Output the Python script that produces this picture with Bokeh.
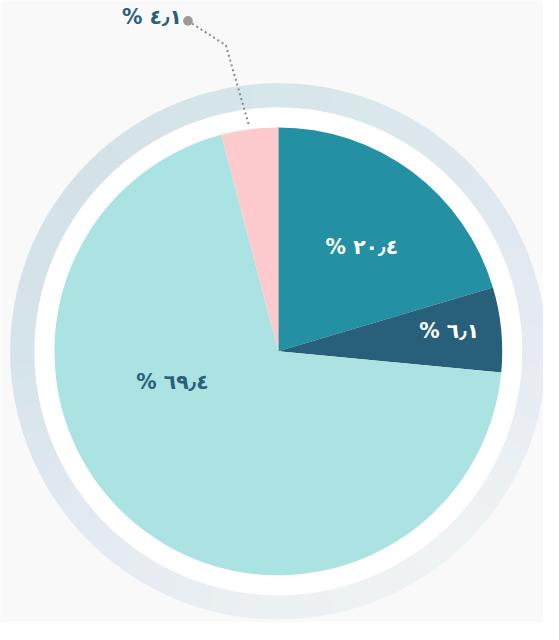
import numpy as np
from bokeh.plotting import figure
from bokeh.models import Range1d
from bokeh.core.properties import value
from bokeh.embed import file_html
from bokeh.resources import INLINE

# ---- data ----
shares = [20.4, 6.1, 69.4, 4.1]
labels = ["% ٢٠٫٤", "% ٦٫١", "% ٦٩٫٤", "% ٤٫١"]
colors = ["#2490a4", "#285f7a", "#aae3e2", "#fdcbce"]
label_colors = ["#ffffff", "#ffffff", "#2a5f7a", "#2a5f7a"]

# ---- layout ----
REF_W, REF_H = 559, 640          # design space (reference pixels)
W = 543
H = int(round(REF_H * W / REF_W))
SC = W / REF_W
CX, CY = 286, REF_H - 361
R_PIE, R_WHITE, R_RING = 230.5, 251, 276
# label offsets from centre (dx right, dy down), design pixels
label_off = [(86, -107), (176, -21), (-109, 32), (-130, -344)]

p = figure(width=W, height=H, output_backend="svg", toolbar_location=None,
           x_range=Range1d(0, REF_W), y_range=Range1d(0, REF_H),
           min_border=0)
p.axis.visible = False
p.grid.visible = False
p.outline_line_color = None
p.background_fill_color = "#f9f9f9"
p.border_fill_color = "#f9f9f9"

# ---- outer gradient ring ----
stops = [(0, "#d7e6ea"), (45, "#dde8ed"), (90, "#e6ebf3"), (135, "#eff3f3"),
         (180, "#ecf1f3"), (225, "#e4eaf1"), (270, "#d5e4e9"), (315, "#d4e2e8"),
         (360, "#d7e6ea")]

def hex2rgb(h):
    return np.array([int(h[i:i + 2], 16) for i in (1, 3, 5)], float)

def col_at(a):
    for (a0, c0), (a1, c1) in zip(stops[:-1], stops[1:]):
        if a0 <= a <= a1:
            t = (a - a0) / (a1 - a0)
            c = hex2rgb(c0) * (1 - t) + hex2rgb(c1) * t
            return "#%02x%02x%02x" % tuple(int(round(v)) for v in c)
    return stops[0][1]

N = 120
seg = 360 / N
cw = np.arange(N) * seg  # clockwise from top
starts = [np.radians(90 - (a + seg) - 0.3) for a in cw]
ends = [np.radians(90 - a) for a in cw]
ring_cols = [col_at(a + seg / 2) for a in cw]
p.annular_wedge(x=[CX] * N, y=[CY] * N, inner_radius=R_WHITE, outer_radius=R_RING,
                start_angle=starts, end_angle=ends,
                fill_color=ring_cols, line_color=None)

# white ring
p.circle(x=[CX], y=[CY], radius=R_WHITE, fill_color="#ffffff", line_color=None)

# ---- pie ----
cum = np.concatenate([[0], np.cumsum(shares)])
tot = cum[-1]
st = [np.radians(90 - cum[i + 1] / tot * 360) for i in range(len(shares))]
en = [np.radians(90 - cum[i] / tot * 360) for i in range(len(shares))]
p.wedge(x=[CX] * len(shares), y=[CY] * len(shares), radius=R_PIE,
        start_angle=st, end_angle=en,
        fill_color=colors, line_color=None)

# ---- callout for the small slice ----
mid = np.radians(90 - (cum[3] + cum[4]) / 2 / tot * 360)
ex, ey = CX + (R_PIE + 3) * np.cos(mid), CY + (R_PIE + 3) * np.sin(mid)
dot = (CX - 93, CY + 340)
bend = (CX - 54, CY + 315)
p.line(x=[dot[0], bend[0], ex], y=[dot[1], bend[1], ey], line_color="#8a8a8a",
       line_width=2, line_dash="2 3")
p.scatter(x=[dot[0]], y=[dot[1]], size=10 * SC, marker="circle",
          fill_color="#9a9a9a", line_color=None)

# ---- labels ----
lx = [CX + dx for dx, dy in label_off]
ly = [CY - dy for dx, dy in label_off]
p.text(x=lx, y=ly, text=labels, text_align="center", text_baseline="middle",
       text_font=value("DejaVu Sans"), text_font_style="bold",
       text_font_size="%.1fpx" % (21 * SC), text_color=label_colors)

html = file_html(p, INLINE)
html = html.replace("<body>", '<body style="background:#f9f9f9">', 1)
open("out.html", "w").write(html)
